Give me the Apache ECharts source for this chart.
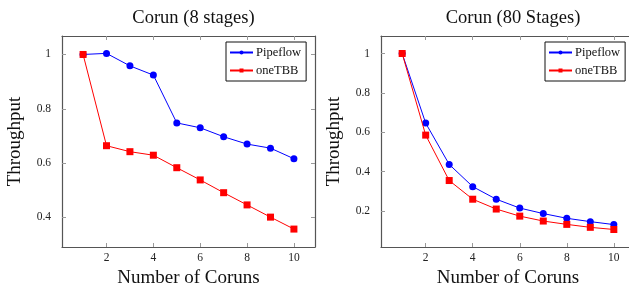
<!DOCTYPE html>
<html>
<head>
<meta charset="utf-8">
<script src="https://cdn.jsdelivr.net/npm/echarts@6/dist/echarts.min.js"></script>
<style>
  html, body { margin: 0; padding: 0; background: #fff; }
  #chart { width: 629px; height: 288px; }
</style>
</head>
<body>
<div id="chart"></div>
<script>
// x values shared by both panels
const coruns = [1, 2, 3, 4, 5, 6, 7, 8, 9, 10];
const xTicks = [2, 4, 6, 8, 10];

// Corun (8 stages)
const pipeflow8 = [1.0, 1.004, 0.958, 0.924, 0.748, 0.730, 0.697, 0.670, 0.655, 0.616];
const onetbb8 = [1.0, 0.664, 0.642, 0.629, 0.583, 0.538, 0.491, 0.446, 0.401, 0.357];

// Corun (80 Stages)
const pipeflow80 = [1.0, 0.646, 0.436, 0.323, 0.259, 0.214, 0.186, 0.162, 0.145, 0.130];
const onetbb80 = [1.0, 0.585, 0.354, 0.259, 0.209, 0.173, 0.148, 0.131, 0.116, 0.105];

const titles = ["Corun (8 stages)", "Corun (80 Stages)"];
const seriesNames = ["Pipeflow", "oneTBB"];

const FONT = "Liberation Serif";
const frame = "#555";

const pairs = (xs, ys) => xs.map((x, i) => [x, ys[i]]);

const chart = echarts.init(document.getElementById("chart"));

// panel layout (pixels)
const panels = [
  { left: 62, width: 253, yMin: 0.291, yMax: 1.068, yTicks: [0.4, 0.6, 0.8, 1], data: [pipeflow8, onetbb8] },
  { left: 381, width: 254, yMin: 0.016, yMax: 1.089, yTicks: [0.2, 0.4, 0.6, 0.8, 1], data: [pipeflow80, onetbb80] },
];

const grids = [], xAxes = [], yAxes = [], series = [], titleOpts = [], legends = [];

panels.forEach((p, k) => {
  grids.push({ left: p.left, top: 36, width: p.width, height: 211, outerBoundsMode: "none" });
  titleOpts.push({
    text: titles[k],
    left: p.left + p.width / 2,
    top: 4,
    textAlign: "center",
    textStyle: { fontFamily: FONT, fontSize: 18.5, fontWeight: "normal", color: "#111" },
  });
  const xBase = {
    type: "value", gridIndex: k, min: 0.1, max: 10.9,
    axisLine: { show: true, onZero: false, lineStyle: { color: frame, width: 1.2 } },
    splitLine: { show: false },
    axisTick: { show: true, inside: true, length: 4, lineStyle: { color: "#999" }, customValues: xTicks },
  };
  xAxes.push(Object.assign({}, xBase, {
    position: "bottom",
    axisLabel: { customValues: xTicks, fontFamily: FONT, fontSize: 11.5, color: "#222", margin: 5 },
    name: "Number of Coruns", nameLocation: "middle", nameGap: 20,
    nameTextStyle: { fontFamily: FONT, fontSize: 19, color: "#111" },
  }));
  xAxes.push(Object.assign({}, xBase, { position: "top", axisLabel: { show: false } }));
  const yBase = {
    type: "value", gridIndex: k, min: p.yMin, max: p.yMax,
    axisLine: { show: true, onZero: false, lineStyle: { color: frame, width: 1.2 } },
    splitLine: { show: false },
    axisTick: { show: true, inside: true, length: 4, lineStyle: { color: "#999" }, customValues: p.yTicks },
  };
  yAxes.push(Object.assign({}, yBase, {
    position: "left",
    axisLabel: {
      customValues: p.yTicks, fontFamily: FONT, fontSize: 11.5, color: "#222", margin: 11,
      formatter: (v) => String(Math.round(v * 10) / 10),
    },
    name: "Throughput", nameLocation: "middle", nameGap: 37,
    nameTextStyle: { fontFamily: FONT, fontSize: 19, color: "#111" },
  }));
  yAxes.push(Object.assign({}, yBase, { position: "right", axisLabel: { show: false } }));

  const colors = ["#0000ff", "#ff0000"];
  const symbols = ["circle", "rect"];
  const sizes = [7, 7];
  seriesNames.forEach((name, j) => {
    series.push({
      name: name, type: "line",
      xAxisIndex: 2 * k, yAxisIndex: 2 * k,
      data: pairs(coruns, p.data[j]),
      symbol: symbols[j], symbolSize: sizes[j],
      itemStyle: { color: colors[j] },
      lineStyle: { color: colors[j], width: 1 },
      emphasis: { disabled: true },
      animation: false,
      z: j === 0 ? 2 : 3,
    });
  });

  legends.push({
    data: seriesNames.map((n) => ({ name: n })),
    orient: "vertical",
    left: p.left + 164, top: 42,
    width: 81,
    padding: [4, 5, 4, 3],
    itemGap: 5,
    itemWidth: 23, itemHeight: 5,
    borderColor: "#111", borderWidth: 1, backgroundColor: "#fff",
    textStyle: { fontFamily: FONT, fontSize: 12.5, color: "#111", padding: [0, 0, 0, -2] },
    selectedMode: false,
  });
});

chart.setOption({
  animation: false,
  title: titleOpts,
  legend: legends,
  grid: grids,
  xAxis: xAxes,
  yAxis: yAxes,
  series: series,
});
</script>
</body>
</html>
